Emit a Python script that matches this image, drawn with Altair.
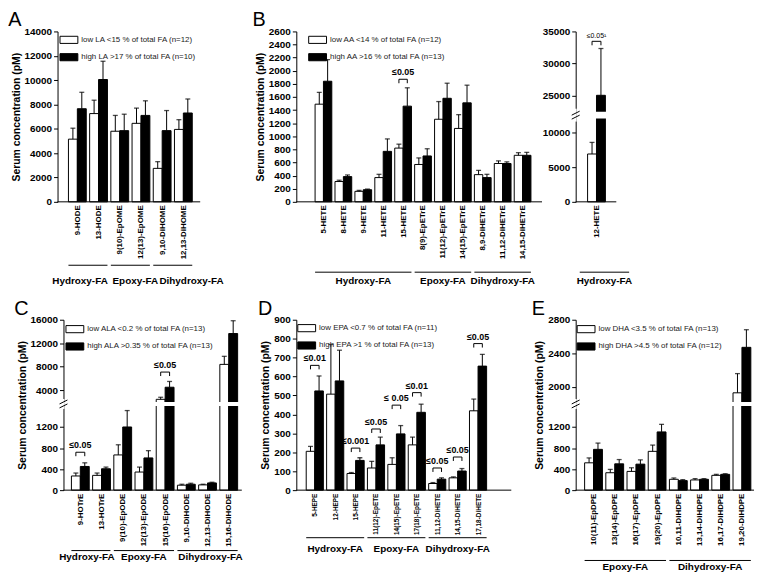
import altair as alt
import pandas as pd

FONT = "Liberation Sans"
BW = 0.42     # bar width in category units
H = 172       # plot height (px)

# ---------------- data ----------------
A_cats = ["9-HODE", "13-HODE", "9(10)-EpOME", "12(13)-EpOME", "9,10-DiHOME", "12,13-DiHOME"]
A_low = [5150, 7250, 5800, 6450, 2750, 5950]
A_low_up = [6050, 8350, 7100, 7700, 3300, 6750]
A_high = [7650, 10050, 5850, 7100, 5850, 7300]
A_high_up = [9000, 11550, 7200, 8300, 7500, 8450]
A_legend = ["low LA <15 % of total FA (n=12)", "high LA >17 % of total FA (n=10)"]
A_groups = [("Hydroxy-FA", 0, 1), ("Epoxy-FA", 2, 3), ("Dihydroxy-FA", 4, 5)]
A_brackets = []

B_cats = ["5-HETE", "8-HETE", "9-HETE", "11-HETE", "15-HETE", "8(9)-EpETrE",
          "11(12)-EpETrE", "14(15)-EpETrE", "8,9-DiHETrE", "11,12-DiHETrE", "14,15-DiHETrE"]
B_low = [1490, 310, 160, 370, 820, 570, 1260, 1120, 415, 585, 710]
B_low_up = [1670, 330, 175, 420, 880, 670, 1530, 1330, 480, 625, 750]
B_high = [1840, 385, 185, 770, 1460, 700, 1580, 1510, 370, 585, 710]
B_high_up = [2170, 410, 195, 960, 1740, 810, 1810, 1780, 420, 610, 755]
B_legend = ["low AA <14 % of total FA (n=12)", "high AA >16 % of total FA (n=13)"]
B_groups = [("Hydroxy-FA", 0, 4), ("Epoxy-FA", 5, 7), ("Dihydroxy-FA", 8, 10)]
B_brackets = [(4, 1870, "≤0.05")]

B2_cats = ["12-HETE"]
B2_low = [6900]
B2_low_up = [8570]
B2_high = [25050]
B2_high_up = [32340]
B2_groups = [("Hydroxy-FA", 0, 0)]
B2_brackets = [(0, 33460, "≤0.05¹")]

C_cats = ["9-HOTrE", "13-HOTrE", "9(10)-EpODE", "12(13)-EpODE", "15(16)-EpODE",
          "9,10-DiHODE", "12,13-DiHODE", "15,16-DiHODE"]
C_low = [269, 281, 669, 344, 2450, 94, 100, 8400]
C_low_up = [325, 325, 862, 438, 2800, 112, 112, 9770]
C_high = [450, 406, 1200, 612, 4510, 112, 137, 13650]
C_high_up = [519, 438, 1512, 750, 5490, 131, 150, 15830]
C_legend = ["low ALA <0.2 % of total FA (n=13)", "high ALA >0.35 % of total FA (n=13)"]
C_groups = [("Hydroxy-FA", 0, 1), ("Epoxy-FA", 2, 4), ("Dihydroxy-FA", 5, 7)]
C_brackets = [(0, 720, "≤0.05"), (4, 7090, "≤0.05")]

D_cats = ["5-HEPE", "12-HEPE", "15-HEPE", "11(12)-EpETE", "14(15)-EpETE", "17(18)-EpETE",
          "11,12-DiHETE", "14,15-DiHETE", "17,18-DiHETE"]
D_low = [205, 507, 88, 117, 136, 239, 35, 65, 419]
D_low_up = [231, 769, 93, 152, 171, 280, 40, 70, 481]
D_high = [524, 577, 157, 239, 297, 411, 58, 101, 655]
D_high_up = [603, 739, 171, 280, 341, 454, 65, 114, 717]
D_legend = ["low EPA <0.7 % of total FA (n=11)", "high EPA >1 % of total FA (n=13)"]
D_groups = [("Hydroxy-FA", 0, 2), ("Epoxy-FA", 3, 5), ("Dihydroxy-FA", 6, 8)]
D_brackets = [(0, 659, "≤0.01"), (2, 222, "≤0.001"), (3, 323, "≤0.05"), (4, 449, "≤ 0.05"),
              (5, 515, "≤0.01"), (6, 117, "≤0.05"), (7, 175, "≤0.05"), (8, 774, "≤0.05")]

E_cats = ["10(11)-EpDPE", "13(14)-EpDPE", "16(17)-EpDPE", "19(20)-EpDPE",
          "10,11-DiHDPE", "13,14-DiHDPE", "16,17-DiHDPE", "19,20-DiHDPE"]
E_low = [519, 331, 356, 737, 206, 194, 281, 1929]
E_low_up = [612, 394, 425, 856, 231, 219, 300, 2158]
E_high = [775, 500, 494, 1106, 181, 206, 300, 2471]
E_high_up = [894, 581, 575, 1250, 200, 219, 312, 2681]
E_legend = ["low DHA <3.5 % of total FA (n=13)", "high DHA >4.5 % of total FA (n=12)"]
E_groups = [("Epoxy-FA", 0, 3), ("Dihydroxy-FA", 4, 7)]
E_brackets = []

YTITLE = "Serum concentration (pM)"
ONE = pd.DataFrame({"k": [0]})


def panel(cats, low, low_up, high, high_up, legend_labels, groups, brackets,
          ydomain, yticks, W, p, c0, L, line_y, text_y, letter=None, yrange=None,
          ax=0, legend_xy=(1, -1), gpad=(BW, BW), brk=None, ytitle=YTITLE,
          bfont=(9, "bold"), tshift=None, xfs=8):
    n = len(cats)
    rows = []
    for i, c in enumerate(cats):
        rows.append(dict(cat=c, grp=legend_labels[0], x0=i - BW, x1=i, v=low[i], up=low_up[i]))
        rows.append(dict(cat=c, grp=legend_labels[1], x0=i, x1=i + BW, v=high[i], up=high_up[i]))
    df = pd.DataFrame(rows)
    df["xc"] = (df.x0 + df.x1) / 2
    df["zero"] = 0

    xmin = -c0 / p
    xmax = (W - c0) / p
    xs = alt.Scale(domain=[xmin, xmax], nice=False, zero=False)
    ysk = dict(domain=ydomain, nice=False, zero=False)
    if yrange is not None:
        ysk["range"] = yrange
    ys = alt.Scale(**ysk)

    names = ",".join("'%s'" % c for c in cats)
    xaxis = alt.Axis(values=list(range(n)), tickCount=n, labelExpr=f"[{names}][datum.value]",
                     labelAngle=270, labelAlign="right", labelBaseline="middle",
                     labelFontSize=xfs, labelFontWeight="bold", labelPadding=3,
                     ticks=False, domain=False, grid=False, title=None,
                     labelOverlap=False, labelFlush=False)
    yaxis_kw = dict(values=yticks, tickCount=len(yticks), format="d", labelFontWeight="bold",
                    labelFontSize=10, tickSize=4, grid=False, labelPadding=2,
                    titleFontSize=10.5, titleFontWeight="bold", titlePadding=3, offset=-ax,
                    labelOverlap=False, labelFlush=False)
    yaxis_kw["title"] = ytitle if ytitle else None
    yaxis = alt.Axis(**yaxis_kw)

    if legend_xy is None:
        leg = None
    else:
        leg = alt.Legend(orient="none", legendX=legend_xy[0], legendY=legend_xy[1], title=None,
                         symbolType="M-1,-0.4H1V0.4H-1Z", symbolSize=324,
                         symbolStrokeColor="black", symbolStrokeWidth=1,
                         labelFontSize=8, labelColor="#222", labelOffset=3,
                         rowPadding=1.5, padding=0, labelFont=FONT)
    fill = alt.Fill("grp:N", scale=alt.Scale(domain=legend_labels, range=["white", "black"]),
                    legend=leg)

    layers = []
    layers.append(alt.Chart(df).mark_rect(stroke="black", strokeWidth=1).encode(
        x=alt.X("x0:Q", scale=xs, axis=xaxis), x2="x1:Q",
        y=alt.Y("v:Q", scale=ys, axis=yaxis), y2="zero:Q", fill=fill))
    layers.append(alt.Chart(df).mark_rule(color="black", strokeWidth=1).encode(
        x="xc:Q", y="v:Q", y2="up:Q"))
    layers.append(alt.Chart(df).mark_tick(orient="horizontal", size=5, thickness=1.3,
                                          color="black").encode(x="xc:Q", y="up:Q"))

    if brackets:
        bdf = pd.DataFrame(brackets, columns=["i", "b", "lab"])
        bdf["xl"] = bdf.i - BW / 2
        bdf["xr"] = bdf.i + BW / 2
        ldf = pd.concat([bdf[["xl", "b"]].rename(columns={"xl": "lx"}),
                         bdf[["xr", "b"]].rename(columns={"xr": "lx"})])
        layers.append(alt.Chart(bdf).mark_rule(color="black", strokeWidth=1).encode(
            x="xl:Q", x2="xr:Q", y="b:Q"))
        layers.append(alt.Chart(ldf).mark_rule(color="black", strokeWidth=1, y2Offset=4).encode(
            x="lx:Q", y="b:Q", y2="b:Q"))
        layers.append(alt.Chart(bdf).mark_text(baseline="bottom", dy=-2, fontSize=bfont[0],
                                               fontWeight=bfont[1], font=FONT,
                                               color="black").encode(
            x="i:Q", y="b:Q", text="lab:N"))

    if brk is not None:
        lo, hi = brk
        mid = (lo + hi) / 2
        layers.append(alt.Chart(ONE).mark_rect(color="white").encode(
            x=alt.value(ax + 1), x2=alt.value(W), y=alt.datum(hi), y2=alt.datum(lo)))
        layers.append(alt.Chart(ONE).mark_rect(color="white", yOffset=-3, y2Offset=3).encode(
            x=alt.value(ax - 5), x2=alt.value(ax + 1), y=alt.datum(hi), y2=alt.datum(lo)))
        layers.append(alt.Chart(ONE).mark_rule(color="black", strokeWidth=1, yOffset=0,
                                               y2Offset=-4).encode(
            x=alt.value(ax - 4), x2=alt.value(ax + 4), y=alt.datum(mid), y2=alt.datum(mid)))
        layers.append(alt.Chart(ONE).mark_rule(color="black", strokeWidth=1, yOffset=4,
                                               y2Offset=0).encode(
            x=alt.value(ax - 4), x2=alt.value(ax + 4), y=alt.datum(mid), y2=alt.datum(mid)))

    layers.append(alt.Chart(ONE).mark_rule(color="black", strokeWidth=1).encode(
        x=alt.datum(xmin + ax / p), x2=alt.datum((L - c0) / p), y=alt.datum(0)))

    grows = []
    for k, (name, i0, i1) in enumerate(groups):
        gx0 = i0 - gpad[0]
        gx1 = i1 + gpad[1]
        sh = (tshift[k] / p) if tshift else 0
        grows.append(dict(name=name, gx0=gx0, gx1=gx1, gxt=(gx0 + gx1) / 2 + sh))
    gdf = pd.DataFrame(grows)
    layers.append(alt.Chart(gdf).mark_rule(color="black", strokeWidth=1).encode(
        x="gx0:Q", x2="gx1:Q", y=alt.value(line_y)))
    layers.append(alt.Chart(gdf).mark_text(fontSize=10, fontWeight="bold", baseline="middle",
                                           font=FONT, color="black").encode(
        x="gxt:Q", y=alt.value(text_y), text="name:N"))

    props = dict(width=W, height=H)
    if letter:
        props["title"] = alt.Title(letter, anchor="start", frame="bounds", fontSize=20,
                                   fontWeight="normal", font=FONT, color="black",
                                   dx=-3, offset=-4)
    return alt.layer(*layers).properties(**props)


pA = panel(A_cats, A_low, A_low_up, A_high, A_high_up, A_legend, A_groups, A_brackets,
           [0, 14000], list(range(0, 14001, 2000)), W=199, p=21.4, c0=20, L=144,
           line_y=236, text_y=252, letter="A", legend_xy=(2, -1), tshift=[-8, 5, 19])
pB = panel(B_cats, B_low, B_low_up, B_high, B_high_up, B_legend, B_groups, B_brackets,
           [0, 2600], list(range(0, 2601, 200)), W=250, p=20.1, c0=27.4, L=248,
           line_y=243, text_y=252, letter="B", legend_xy=(12, -1))
pB2 = panel(B2_cats, B2_low, B2_low_up, B2_high, B2_high_up, B_legend, B2_groups, B2_brackets,
            [0, 12000, 22500, 35000], [0, 5000, 10000, 25000, 30000, 35000],
            W=42, p=21.4, c0=21, L=41, line_y=243, text_y=252, yrange=[H, 88, 81, 0],
            legend_xy=None, gpad=(0.79, 1.54), brk=(12000, 22500), ytitle=None,
            bfont=(7, "normal"))
pC = panel(C_cats, C_low, C_low_up, C_high, C_high_up, C_legend, C_groups, C_brackets,
           [0, 1600, 2000, 16000], [0, 400, 800, 1200, 4000, 8000, 12000, 16000],
           W=209, p=21.4, c0=23, L=186, line_y=233, text_y=240, letter="C",
           yrange=[H, 87, 83, 0], ax=6, legend_xy=(8, 0), brk=(1600, 2000),
           tshift=[-4, 0, 3])
pD = panel(D_cats, D_low, D_low_up, D_high, D_high_up, D_legend, D_groups, D_brackets,
           [0, 900], list(range(0, 901, 100)), W=243, p=20.6, c0=18.65, L=217,
           line_y=220, text_y=231, letter="D", legend_xy=(1, -1), xfs=6.5)
pE = panel(E_cats, E_low, E_low_up, E_high, E_high_up, E_legend, E_groups, E_brackets,
           [0, 1600, 1820, 2800], [0, 400, 800, 1200, 2000, 2400, 2800],
           W=182, p=21.4, c0=18, L=180, line_y=243, text_y=250, letter="E",
           yrange=[H, 87, 83, 0], legend_xy=(1, 0), brk=(1600, 1820))

chart = alt.concat(pA, pB, pB2, pC, pD, pE, columns=3,
                   spacing={"row": 119, "column": 32}, bounds="flush", align="none"
                   ).resolve_scale(x="independent", y="independent", fill="independent"
                   ).resolve_legend(fill="independent"
                   ).properties(padding={"left": 0, "top": 0, "right": 0, "bottom": 0}
                   ).configure(font=FONT
                   ).configure_view(stroke=None
                   ).configure_axis(domainColor="black", tickColor="black", labelColor="black",
                                    titleColor="black", labelFont=FONT, titleFont=FONT)

chart.save("out.html", embed_options={"renderer": "svg", "actions": False})
